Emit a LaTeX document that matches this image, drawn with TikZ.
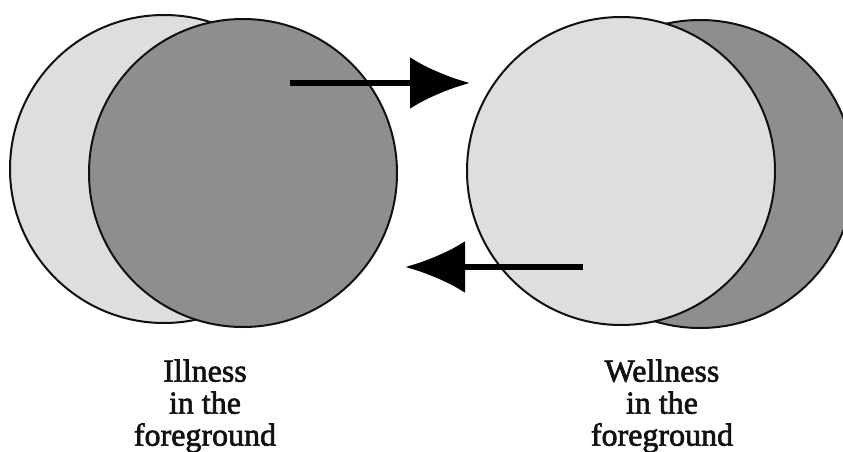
\documentclass[tikz,border=0pt]{standalone}
\usepackage{fontspec}
\setmainfont{Liberation Serif}
\newfontfamily\capfont[FakeBold=2]{Liberation Serif}
\usetikzlibrary{arrows.meta}
\definecolor{dlight}{HTML}{DEDEDC}
\definecolor{ddark}{HTML}{8E8E8E}
\definecolor{dline}{HTML}{111111}
\tikzset{
  lightdisc/.style={circle, draw=dline, fill=dlight, line width=2pt,
                    minimum size=308pt, inner sep=0pt},
  darkdisc/.style={circle, draw=dline, fill=ddark, line width=2pt,
                   minimum size=308pt, inner sep=0pt},
  bigarr/.style={-{Latex[length=60pt, width=52pt]}, line width=6.5pt, black},
  caption/.style={align=center, font=\capfont\fontsize{32}{32}\selectfont,
                  text=dline, inner sep=0pt},
}
\begin{document}
\begin{tikzpicture}[x=1pt, y=-1pt]
  \useasboundingbox (0,0) rectangle (843,452);
  \clip (0,0) rectangle (843,452);
  \fill[white] (0,0) rectangle (843,452);

  %% ── illness: dark disc in front ──
  \node[lightdisc] (ill-back) at (164,169) {};
  \node[darkdisc] (ill-front) at (243,173) {};

  %% ── wellness: light disc in front ──
  \node[darkdisc] (well-back) at (700,174) {};
  \node[lightdisc] (well-front) at (621,171) {};

  %% ── arrows ──
  \coordinate (ill-out) at (290,83);
  \coordinate (well-in) at (470,83);
  \coordinate (well-out) at (583,267);
  \coordinate (ill-in) at (405,267);
  \draw[bigarr] (ill-out) -- (well-in);
  \draw[bigarr] (well-out) -- (ill-in);

  %% ── captions ──
  \node[caption] (ill-text) at (205,406) {Illness\\in the\\foreground};
  \node[caption] (well-text) at (662,406) {Wellness\\in the\\foreground};
\end{tikzpicture}
\end{document}
